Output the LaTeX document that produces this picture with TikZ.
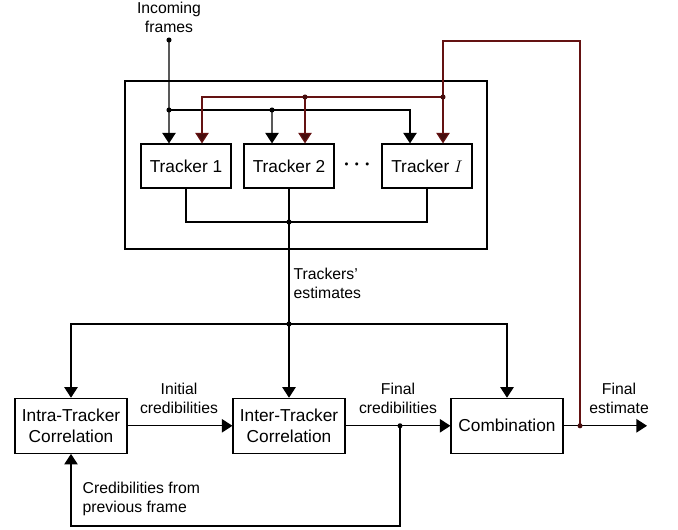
\documentclass[tikz,border=0pt]{standalone}
\usepackage{fontspec}
\setmainfont{Liberation Sans}
\usetikzlibrary{arrows.meta}

\definecolor{fbred}{RGB}{100,18,18}
\tikzset{
  blok/.style={draw, line width=0.8pt, minimum height=1.1cm, inner sep=2pt,
    font=\fontsize{12.3}{14.5}\selectfont, align=center},
  popis/.style={font=\fontsize{11.2}{13.4}\selectfont, align=center, inner sep=1pt},
  cara/.style={line width=0.85pt},
  sipka/.style={cara, -{Triangle[width=9.5pt,length=7.5pt]}},
  rsipka/.style={cara, fbred, -{Triangle[width=9.5pt,length=7.5pt, fill=fbred!70!black]}},
  bod/.style={circle, fill, inner sep=0pt, minimum size=3.6pt}
}

\begin{document}
\begin{tikzpicture}
        \useasboundingbox (0,0) rectangle (16.95,13.225);

        % rámeček trackerů
        \draw[cara] (3.125,7.0) rectangle (12.175,11.2);

        % bloky
        \node[blok, minimum width=2.25cm] (t1) at (4.65,9.075) {Tracker 1};
        \node[blok, minimum width=2.25cm] (t2) at (7.225,9.075) {Tracker 2};
        \node[blok, minimum width=2.25cm] (tI) at (10.675,9.075) {Tracker $I$};
        \node[font=\fontsize{15}{16}\selectfont\boldmath] (dots) at (8.925,9.1) {$\cdots$};
        \node[blok, minimum width=2.8cm, minimum height=1.375cm] (intra) at (1.775,2.58) {Intra-Tracker\\Correlation};
        \node[blok, minimum width=2.8cm, minimum height=1.375cm] (inter) at (7.225,2.58) {Inter-Tracker\\Correlation};
        \node[blok, minimum width=2.8cm, minimum height=1.375cm] (comb) at (12.675,2.58) {Combination};

        % popisky
        \node[popis] (inlab) at (4.225,12.79) {Incoming\\frames};
        \node[popis, anchor=west, align=left] (estlab) at (7.3,6.14) {Trackers'\\estimates};
        \node[popis] (initlab) at (4.475,3.26) {Initial\\credibilities};
        \node[popis] (finlab) at (9.95,3.26) {Final\\credibilities};
        \node[popis] (outlab) at (15.475,3.26) {Final\\estimate};
        \node[popis, anchor=west, align=left] (prevlab) at (2.025,0.75) {Credibilities from\\previous frame};

        % body
        \coordinate (in) at (4.225,12.225);
        \coordinate (b1) at (4.225,10.475);
        \coordinate (b2) at (6.8,10.475);
        \coordinate (r2) at (7.625,10.8);
        \coordinate (rI) at (11.075,10.8);
        \coordinate (rtop) at (14.5,12.2);
        \coordinate (merge) at (7.225,7.675);
        \coordinate (split) at (7.225,5.125);
        \coordinate (fc) at (10.0,2.58);
        \coordinate (fb) at (10.0,0.075);
        \coordinate (fe) at (14.5,2.58);
        \coordinate (out) at (16.175,2.58);

        % vstupní snímky
        \draw[sipka] (in) -- ([xshift=-0.425cm]t1.north);
        \draw[sipka] (b1) -| ([xshift=-0.425cm]tI.north);
        \draw[sipka] (b2) -- ([xshift=-0.425cm]t2.north);

        % zpětná vazba odhadu
        \draw[rsipka] (rI) -| ([xshift=0.4cm]t1.north);
        \draw[rsipka] (r2) -- ([xshift=0.4cm]t2.north);
        \draw[rsipka] (rI) -- ([xshift=0.4cm]tI.north);
        \draw[cara, fbred] (rI) |- (rtop) -- (fe);

        % výstupy trackerů
        \draw[cara] (t1.south) |- (merge) -| (tI.south);
        \draw[cara] (t2.south) -- (split);
        \draw[sipka] (split) -| (intra.north);
        \draw[sipka] (split) -| (comb.north);
        \draw[sipka] (split) -- (inter.north);

        % věrohodnosti
        \draw[sipka] (intra) -- (inter);
        \draw[sipka] (inter) -- (comb);
        \draw[sipka] (fc) -- (fb) -| (intra.south);
        \draw[sipka] (comb) -- (out);

        % tečky
        \foreach \p in {in,b1,b2,merge,split,fc}
          \node[bod] at (\p) {};
        \foreach \p in {r2,rI,fe}
          \node[bod, fill=fbred!70!black] at (\p) {};
    \end{tikzpicture}
\end{document}
